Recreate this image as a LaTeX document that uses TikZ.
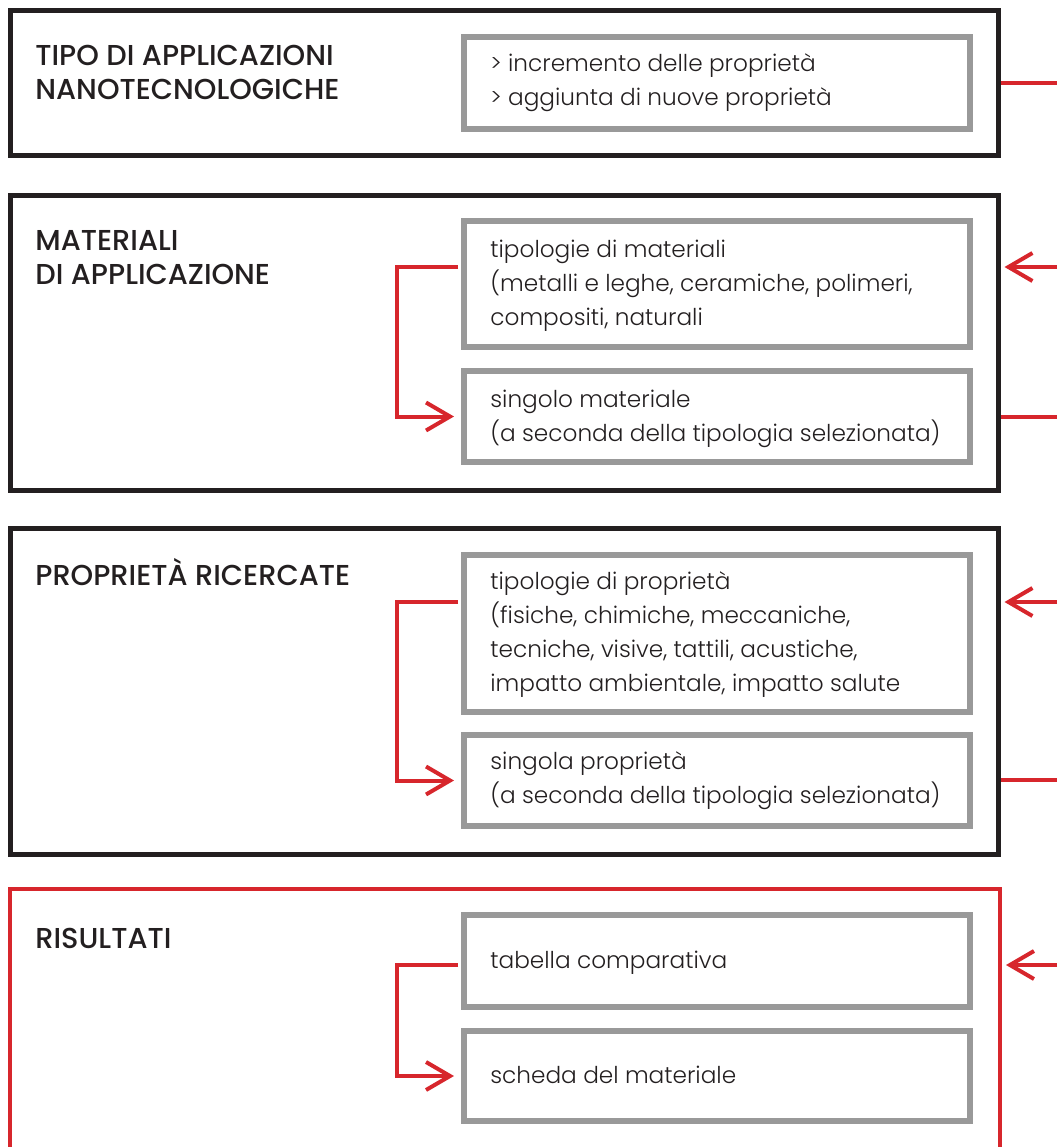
\documentclass[tikz,border=0pt]{standalone}
\usepackage{fontspec}
\setmainfont{Poppins}[UprightFont=* Light, BoldFont=* Medium]
\usetikzlibrary{arrows.meta,fit,calc}
\definecolor{frame}{HTML}{231F20}
\definecolor{panel}{HTML}{999999}
\definecolor{accent}{HTML}{D7262C}
\begin{document}
\begin{tikzpicture}[x=0.5pt,y=-0.5pt,
  sectionbox/.style={draw=frame,line width=2.5pt,inner sep=0pt},
  resultbox/.style={draw=accent,line width=2pt,inner sep=0pt},
  panelbox/.style={draw=panel,line width=3pt,inner sep=0pt},
  heading/.style={anchor=base west,inner sep=0pt,font=\bfseries\fontsize{14.4}{17}\selectfont,text=frame},
  body/.style={anchor=base west,inner sep=0pt,font=\fontsize{11.6}{17}\selectfont,text=frame},
  link/.style={draw=accent,line width=2pt},
  tip/.style={-{Straight Barb[length=12pt,width=14pt,line join=miter]}},
]
\clip (0,0) rectangle (1057,1147);

% section frames
\node[sectionbox,fit={(10,10) (998,155)}] (s1) {};
\node[sectionbox,fit={(10,195) (998,490)}] (s2) {};
\node[sectionbox,fit={(10,528) (998,854)}] (s3) {};
\node[resultbox,fit={(10,889) (1000,1200)}] (s4) {};

% inner panels
\node[panelbox,fit={(464,37) (970,129)}] (g1) {};
\node[panelbox,fit={(464,221) (970,347)}] (g2a) {};
\node[panelbox,fit={(464,371) (970,462)}] (g2b) {};
\node[panelbox,fit={(464,555) (970,712)}] (g3a) {};
\node[panelbox,fit={(464,735) (970,826)}] (g3b) {};
\node[panelbox,fit={(464,915) (970,1007)}] (g4a) {};
\node[panelbox,fit={(464,1031) (970,1121)}] (g4b) {};

% headings
\node[heading] (h1a) at (35,65) {TIPO DI APPLICAZIONI};
\node[heading] (h1b) at (35,99) {NANOTECNOLOGICHE};
\node[heading] (h2a) at (35,250) {MATERIALI};
\node[heading] (h2b) at (35,284) {DI APPLICAZIONE};
\node[heading] (h3) at (35,585) {PROPRIETÀ RICERCATE};
\node[heading] (h4) at (35,948) {RISULTATI};

% panel texts
\node[body] (t1a) at (490,71) {> incremento delle proprietà};
\node[body] (t1b) at (490,105) {> aggiunta di nuove proprietà};
\node[body] (t2a) at (490,257) {tipologie di materiali};
\node[body] (t2b) at (490,291) {(metalli e leghe, ceramiche, polimeri,};
\node[body] (t2c) at (490,325) {compositi, naturali};
\node[body] (t2d) at (490,407) {singolo materiale};
\node[body] (t2e) at (490,441) {(a seconda della tipologia selezionata)};
\node[body] (t3a) at (490,589) {tipologie di proprietà};
\node[body] (t3b) at (490,623) {(fisiche, chimiche, meccaniche,};
\node[body] (t3c) at (490,657) {tecniche, visive, tattili, acustiche,};
\node[body] (t3d) at (490,691) {impatto ambientale, impatto salute};
\node[body] (t3e) at (490,769) {singola proprietà};
\node[body] (t3f) at (490,803) {(a seconda della tipologia selezionata)};
\node[body] (t4a) at (490,968) {tabella comparativa};
\node[body] (t4b) at (490,1083) {scheda del materiale};

% free ends at the right margin
\coordinate (o1) at (1057,83);
\coordinate (i2) at (1057,267);
\coordinate (o2) at (1057,417);
\coordinate (i3) at (1057,602);
\coordinate (o3) at (1057,780);
\coordinate (i4) at (1057,965);

% flow between sections
\draw[link] (s1.east|-o1) -- (o1);
\draw[link,tip] (i2) -- ($(s2.east|-i2)+(4,0)$);
\draw[link] (s2.east|-o2) -- (o2);
\draw[link,tip] (i3) -- ($(s3.east|-i3)+(4,0)$);
\draw[link] (s3.east|-o3) -- (o3);
\draw[link,tip] (i4) -- ($(s4.east|-i4)+(4,0)$);

% flow inside sections
\draw[link,tip,shorten <=1.5pt,shorten >=3.5pt] (g2a.west|-i2) -- ++(-64,0) |- (g2b.west);
\draw[link,tip,shorten <=1.5pt,shorten >=3.5pt] (g3a.west|-i3) -- ++(-64,0) |- (g3b.west);
\draw[link,tip,shorten <=1.5pt,shorten >=3.5pt] (g4a.west|-i4) -- ++(-64,0) |- (g4b.west);
\end{tikzpicture}
\end{document}
